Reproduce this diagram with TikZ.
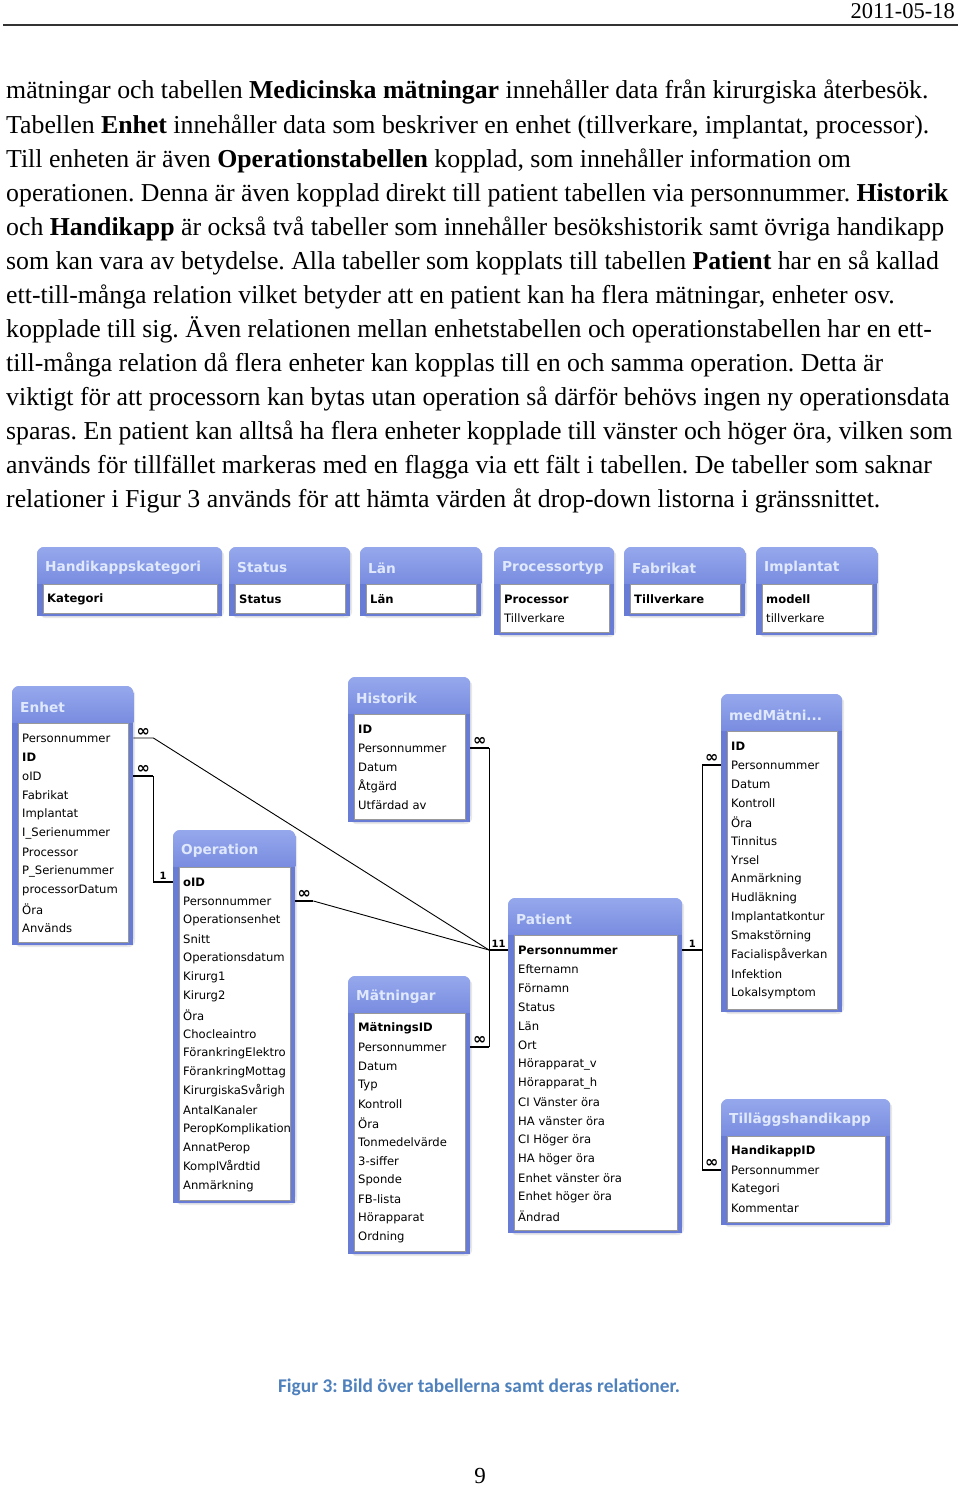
\documentclass[tikz,border=0pt]{standalone}
\usepackage{fontspec}
\setmainfont{Liberation Serif}
\newfontfamily\tabfont{DejaVu Sans}
\newfontfamily\capfont{Carlito}
\frenchspacing
\usetikzlibrary{shadows}

\definecolor{frameblue}{RGB}{104,124,214}
\definecolor{hdtop}{RGB}{150,168,236}
\definecolor{hdbot}{RGB}{110,130,220}
\definecolor{titlecol}{RGB}{224,232,252}
\definecolor{capblue}{RGB}{79,129,189}

\tikzset{
  tabframe/.style={fill=frameblue, rounded corners=7pt, inner sep=0pt, anchor=north west,
    drop shadow={opacity=0.18, shadow xshift=2pt, shadow yshift=-2pt}},
  inbox/.style={fill=white, draw=gray!80, line width=0.8pt},
  tabtitle/.style={anchor=west, inner sep=0pt, text=titlecol, font=\tabfont\bfseries\fontsize{13.7}{16}\selectfont},
  fieldtext/.style={anchor=west, inner sep=0pt, font=\tabfont\fontsize{11.6}{14}\selectfont},
  bodyline/.style={anchor=base west, inner sep=0pt, font=\fontsize{25.8}{30}\selectfont},
  stubline/.style={line width=2.6pt},
  joinline/.style={line width=0.9pt},
  cardlbl/.style={inner sep=1pt, font=\tabfont\bfseries\fontsize{10}{12}\selectfont},
  manylbl/.style={inner sep=0pt, font=\tabfont\bfseries\fontsize{16}{16}\selectfont}
}

% one table of the relationship window
\newcommand{\dbtable}[7]{%
  \node[tabframe, minimum width=#4, minimum height=#5] (#1) at (#2,#3) {};
  \fill[frameblue] ([yshift=12pt]#1.south west) rectangle (#1.south east);
  \begin{scope}
    \clip (#1.north west) rectangle ([yshift=-36pt]#1.north east);
    \shade[top color=hdtop, bottom color=hdbot, rounded corners=7pt] (#1.north west) rectangle ([yshift=-50pt]#1.north east);
  \end{scope}
  \draw[inbox] ([xshift=6pt,yshift=-37pt]#1.north west) coordinate (#1-a) rectangle ([xshift=-5pt,yshift=3pt]#1.south east) coordinate (#1-b);
  \node[tabtitle] (#1-t) at ([xshift=8pt,yshift=-21pt]#1.north west) {#6};
  \begin{scope}
    \clip (#1-a) rectangle (#1-b);
    \foreach \f [count=\i] in {#7}
      \node[fieldtext] (#1-\i) at ([xshift=10pt,yshift={-(52+19*(\i-1))*1pt}]#1.north west) {\f};
  \end{scope}
}

\begin{document}
\begin{tikzpicture}[x=1pt, y=-1pt]
        \fill[white] (0,0) rectangle (960,1487);
        \useasboundingbox (0,0) rectangle (960,1487);

        % page head
        \node[anchor=base east, inner sep=0pt, font=\fontsize{22.5}{26}\selectfont] (date) at (955,19) {2011-05-18};
        \draw[line width=1.6pt, black!80] (3,25) -- (958,25);

        % running text
        \foreach \linetext [count=\i] in {
            {mätningar och tabellen \textbf{Medicinska mätningar} innehåller data från kirurgiska återbesök.},
            {Tabellen \textbf{Enhet} innehåller data som beskriver en enhet (tillverkare, implantat, processor).},
            {Till enheten är även \textbf{Operationstabellen} kopplad, som innehåller information om},
            {operationen. Denna är även kopplad direkt till patient tabellen via personnummer. \textbf{Historik}},
            {och \textbf{Handikapp} är också två tabeller som innehåller besökshistorik samt övriga handikapp},
            {som kan vara av betydelse. Alla tabeller som kopplats till tabellen \textbf{Patient} har en så kallad},
            {ett-till-många relation vilket betyder att en patient kan ha flera mätningar, enheter osv.},
            {kopplade till sig. Även relationen mellan enhetstabellen och operationstabellen har en ett-},
            {till-många relation då flera enheter kan kopplas till en och samma operation. Detta är},
            {viktigt för att processorn kan bytas utan operation så därför behövs ingen ny operationsdata},
            {sparas. En patient kan alltså ha flera enheter kopplade till vänster och höger öra, vilken som},
            {används för tillfället markeras med en flagga via ett fält i tabellen. De tabeller som saknar},
            {relationer i Figur 3 används för att hämta värden åt drop-down listorna i gränssnittet.}}
          \node[bodyline] (line\i) at (6, {99+34.08*(\i-1)}) {\linetext};

        % lookup tables
        \dbtable{hkat}{37}{547}{185}{69}{Handikappskategori}{\textbf{Kategori}}
        \dbtable{status}{229}{547}{121}{69}{Status}{\textbf{Status}}
        \dbtable{lan}{360}{547}{121}{69}{Län}{\textbf{Län}}
        \dbtable{proc}{494}{547}{120}{88}{Processortyp}{\textbf{Processor}, Tillverkare}
        \dbtable{fabr}{624}{547}{121}{69}{Fabrikat}{\textbf{Tillverkare}}
        \dbtable{impl}{756}{547}{121}{88}{Implantat}{\textbf{modell}, tillverkare}

        % related tables
        \dbtable{enhet}{12}{686}{121}{259}{Enhet}{Personnummer, \textbf{ID}, oID, Fabrikat, Implantat, I\_Serienummer, Processor, P\_Serienummer, processorDatum, Öra, Används}
        \dbtable{oper}{173}{830}{122}{373}{Operation}{\textbf{oID}, Personnummer, Operationsenhet, Snitt, Operationsdatum, Kirurg1, Kirurg2, Öra, Chocleaintro, FörankringElektro, FörankringMottag, KirurgiskaSvårigh, AntalKanaler, PeropKomplikation, AnnatPerop, KomplVårdtid, Anmärkning}
        \dbtable{hist}{348}{677}{122}{145}{Historik}{\textbf{ID}, Personnummer, Datum, Åtgärd, Utfärdad av}
        \dbtable{matn}{348}{976}{122}{278}{Mätningar}{\textbf{MätningsID}, Personnummer, Datum, Typ, Kontroll, Öra, Tonmedelvärde, 3-siffer, Sponde, FB-lista, Hörapparat, Ordning}
        \dbtable{pat}{508}{898}{174}{335}{Patient}{\textbf{Personnummer}, Efternamn, Förnamn, Status, Län, Ort, Hörapparat\_v, Hörapparat\_h, CI Vänster öra, HA vänster öra, CI Höger öra, HA höger öra, Enhet vänster öra, Enhet höger öra, Ändrad}
        \dbtable{med}{721}{694}{121}{318}{medMätni...}{\textbf{ID}, Personnummer, Datum, Kontroll, Öra, Tinnitus, Yrsel, Anmärkning, Hudläkning, Implantatkontur, Smakstörning, Facialispåverkan, Infektion, Lokalsymptom}
        \dbtable{till}{721}{1099}{169}{126}{Tilläggshandikapp}{\textbf{HandikappID}, Personnummer, Kategori, Kommentar}

        % relations
        \coordinate (pL) at ([xshift=-19pt]pat.west |- pat-1);
        \coordinate (pR) at ([xshift=20pt]pat.east |- pat-1);
        \draw[stubline] (pL) -- node[midway, above, cardlbl] (c11) {11} (pat.west |- pat-1);
        \draw[stubline] (pat.east |- pat-1) -- node[midway, above, cardlbl] (c1r) {1} (pR);

        \draw[joinline] (enhet.east |- enhet-1) -- node[midway, above=1pt, manylbl] (ce1) {∞} ++(20,0) coordinate (e1) -- (pL);
        \draw[stubline] (enhet.east |- enhet-3) -- node[midway, above=1pt, manylbl] (ce3) {∞} ++(20,0) coordinate (e3);
        \draw[joinline] (e3) -- (e3 |- oper-1);
        \draw[stubline] (e3 |- oper-1) -- node[midway, above, cardlbl] (co1) {1} (oper.west |- oper-1);
        \draw[stubline] (oper.east |- oper-2) -- node[midway, above=1pt, manylbl] (co2) {∞} ++(18,0) coordinate (o2);
        \draw[joinline] (o2) -- (pL);

        \draw[stubline] (hist.east |- hist-2) -- node[midway, above=1pt, manylbl] (ch2) {∞} (pL |- hist-2);
        \draw[stubline] (matn.east |- matn-2) -- node[midway, above=1pt, manylbl] (cm2) {∞} (pL |- matn-2);
        \draw[joinline] (pL |- hist-2) -- (pL |- matn-2);

        \draw[stubline] (pR |- med-2) -- node[midway, above=1pt, manylbl] (cd2) {∞} (med.west |- med-2);
        \draw[stubline] (pR |- till-2) -- node[midway, above=1pt, manylbl] (ct2) {∞} (till.west |- till-2);
        \draw[joinline] (pR |- med-2) -- (pR |- till-2);

        % caption and page number
        \node[anchor=base, inner sep=0pt, text=capblue, font=\capfont\bfseries\fontsize{19.4}{22}\selectfont] (caption) at (479,1392) {Figur 3: Bild över tabellerna samt deras relationer.};
        \node[anchor=base, inner sep=0pt, font=\fontsize{23}{27}\selectfont] (pagenr) at (480,1483) {9};
    \end{tikzpicture}
\end{document}
